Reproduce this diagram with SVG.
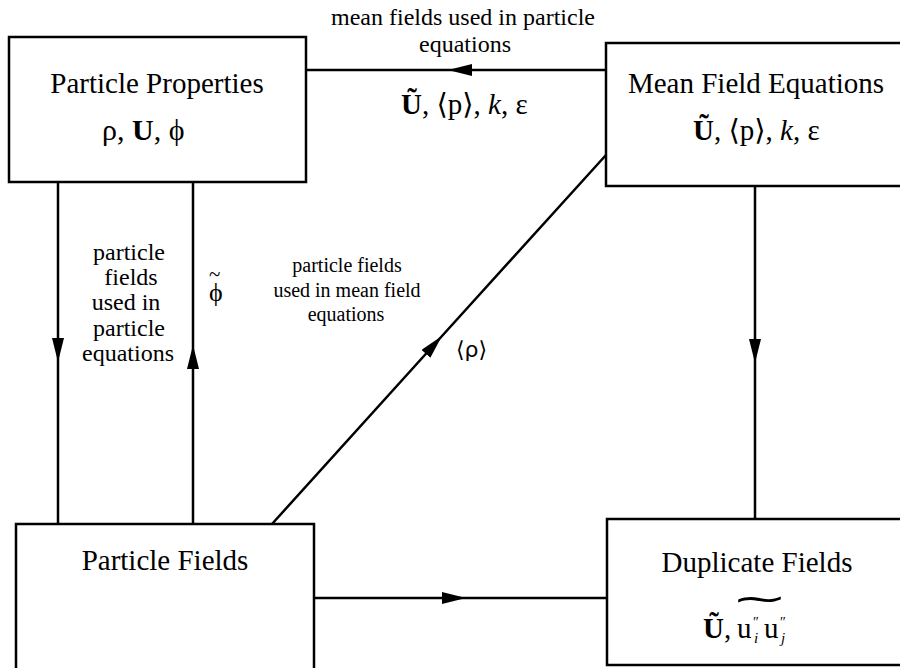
<svg xmlns="http://www.w3.org/2000/svg" width="900" height="668" viewBox="0 0 900 668">
<defs>
<marker id="ah" viewBox="0 0 24 12" markerWidth="24" markerHeight="12" refX="24" refY="6" orient="auto" markerUnits="userSpaceOnUse"><path d="M0,0 L24,6 L0,12 z" fill="#000"/></marker>
</defs>
<style>
.box{fill:#fff;stroke:#000;stroke-width:2.5}
.ln{fill:none;stroke:#000;stroke-width:2.5;marker-mid:url(#ah)}
text{font-family:"Liberation Serif","DejaVu Serif",serif;fill:#000}
.title{font-size:29px;text-anchor:middle}
.lab{font-size:24px;text-anchor:middle}
.dlab{font-size:20px;text-anchor:middle}
.sym{font-size:29px}
.b{font-weight:bold}
.i{font-style:italic}
.sans{font-family:"DejaVu Sans","Liberation Sans",sans-serif}
.sup{font-size:14px}
.sub{font-size:15px;font-style:italic}
</style>
<rect width="900" height="668" fill="#fff"/>
<g id="connectors">
<path class="ln" d="M606,70 L448,70 L306,70"/>
<path class="ln" d="M58,182 L58,362 L58,524"/>
<path class="ln" d="M193,524 L193,345 L193,182"/>
<path class="ln" d="M755,186 L755,363 L755,519"/>
<path class="ln" d="M272,524 L442,336 L606,155"/>
<path class="ln" d="M314,598 L466,598 L607,598"/>
<text class="lab" x="463" y="25">mean fields used in particle</text>
<text class="lab" x="465" y="52">equations</text>
<text class="sym" x="401" y="114"><tspan class="b">Ũ</tspan>, ⟨p⟩, <tspan class="i">k</tspan>, ε</text>
<text class="lab" x="129" y="260">particle</text>
<text class="lab" x="131" y="285">fields</text>
<text class="lab" x="126" y="310">used in</text>
<text class="lab" x="129" y="336">particle</text>
<text class="lab" x="128" y="361">equations</text>
<text style="font-size:26px"><tspan x="209" y="301">ϕ</tspan><tspan x="209" y="281" style="font-size:21px">~</tspan></text>
<text class="dlab" x="347" y="272">particle fields</text>
<text class="dlab" x="347" y="297">used in mean field</text>
<text class="dlab" x="346" y="321">equations</text>
<text class="sans" x="456" y="357" style="font-size:22px">⟨ρ⟩</text>
</g>
<g id="particle-properties">
<rect class="box" x="9" y="37" width="297" height="145"/>
<text class="title" x="157" y="93">Particle Properties</text>
<text class="sym" x="102" y="140" style="font-size:30px">ρ, <tspan class="b">U</tspan>, ϕ</text>
</g>
<g id="mean-field-equations">
<rect class="box" x="606" y="43" width="310" height="143"/>
<text class="title" x="756" y="93">Mean Field Equations</text>
<text class="sym" x="693" y="140"><tspan class="b">Ũ</tspan>, ⟨p⟩, <tspan class="i">k</tspan>, ε</text>
</g>
<g id="particle-fields">
<rect class="box" x="16" y="524" width="298" height="160"/>
<text class="title" x="165" y="570">Particle Fields</text>
</g>
<g id="duplicate-fields">
<rect class="box" x="607" y="519" width="310" height="146"/>
<text class="title" x="757" y="572">Duplicate Fields</text>
<text class="sym"><tspan x="703" y="638" class="b">Ũ</tspan><tspan>,</tspan><tspan x="737" y="638">u</tspan><tspan class="sup" x="753" y="627">″</tspan><tspan class="sub" x="754" y="643">i</tspan><tspan x="764" y="638">u</tspan><tspan class="sup" x="780" y="627">″</tspan><tspan class="sub" x="781" y="643">j</tspan></text>
<text class="sans" x="0" y="0" style="font-size:40px" transform="translate(731,611) scale(1.7,0.9)">~</text>
</g>
</svg>
